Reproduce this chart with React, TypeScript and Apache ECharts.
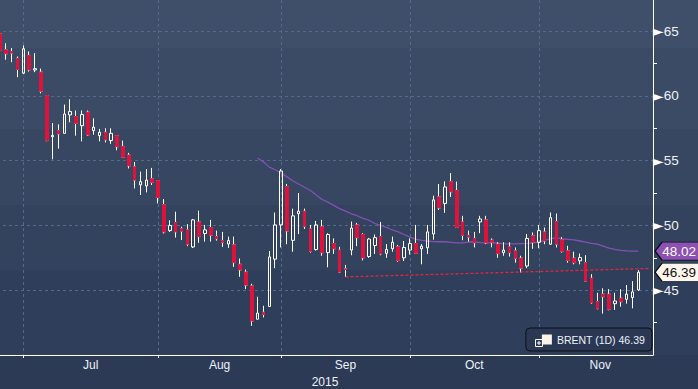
import React, { useEffect, useRef } from "react";
import * as echarts from "echarts";

// ---- data ----
const startDate = "2015-06-25";
const tradingDays = 110;
const padDays = 2;
const monthNames = ["Jan", "Feb", "Mar", "Apr", "May", "Jun", "Jul", "Aug", "Sep", "Oct", "Nov", "Dec"];
const yearLabel = "2015";
const seriesName = "BRENT (1D)";
const yTickLabels = [45, 50, 55, 60, 65];
const yMinorTicks = [42.5, 47.5, 52.5, 57.5, 62.5];

const opens = [64.8,63.56,63.43,62.9,61.75,63.12,62.0,61.83,60.03,56.85, 57.32,57.11,58.53,58.4,57.7,58.74,57.32,56.93,57.19,56.55, 56.93,56.1,55.43,54.53,53.13,53.05,53.6,53.46,51.6,49.6, 50.23,49.75,49.66,48.34,50.27,49.38,49.84,49.14,48.83,48.57, 48.5,47.0,46.4,45.33,42.76,43.3,43.74,47.4,50.04,53.0, 48.85,50.91,51.1,49.73,48.14,49.9,47.9,48.6,48.1,46.65, 48.1,50.04,49.3,47.6,48.45,49.14,47.85,48.2,48.35,47.5, 48.1,48.6,48.2,48.27,49.34,52.2,51.7,53.38,52.7,50.27, 49.24,49.0,50.27,50.43,48.86,48.56,47.9,48.35,48.04,47.47, 46.87,49.2,48.7,49.5,48.55,50.3,48.9,48.04,47.47,47.27, 47.13,45.93,44.12,44.7,44.69,43.96,44.38,44.3,44.43,45.02];
const closes = [63.51,63.25,63.3,62.04,63.64,62.01,62.1,60.36,56.55,56.95, 57.07,58.6,58.79,57.88,58.56,57.0,57.58,57.19,56.6,57.11, 56.08,55.26,54.6,53.5,53.38,53.5,53.33,52.16,49.5,50.0, 49.5,49.55,48.55,50.43,49.14,49.66,49.25,48.98,48.7,48.83, 47.13,46.57,45.4,42.63,43.23,43.13,47.57,50.04,54.2,49.57, 50.74,51.1,49.93,48.0,50.04,47.9,49.3,48.2,46.4,46.6, 49.8,49.06,47.5,48.95,49.06,47.8,48.15,48.7,47.3,48.3, 48.6,47.85,48.4,49.5,51.97,51.35,52.97,52.6,49.85,49.24, 49.1,48.66,50.5,48.66,48.7,47.83,48.1,47.9,47.47,46.7, 49.0,48.7,49.6,48.8,50.6,48.55,48.0,47.3,47.13,47.52, 45.7,44.04,43.58,44.5,43.53,44.17,44.12,44.7,44.87,46.39];
const lows = [63.12,62.79,62.6,61.44,61.7,61.88,61.83,60.2,56.5,55.1, 55.93,57.11,57.96,56.93,56.49,56.93,57.0,56.49,56.4,56.3, 55.8,55.2,54.4,52.86,52.35,52.55,53.12,51.7,49.38,49.5, 49.06,48.87,48.4,48.26,48.66,48.75,48.75,48.83,48.35,48.27, 46.8,46.03,45.08,42.25,42.76,42.9,43.74,46.7,48.3,48.55, 47.97,49.33,49.73,47.9,48.06,47.66,46.77,47.8,46.33,46.03, 47.7,48.4,47.3,47.5,47.8,47.7,47.5,47.97,47.2,47.25, 47.75,47.8,47.0,47.8,48.9,51.2,50.97,52.2,49.85,48.86, 48.75,48.3,49.4,48.56,48.3,47.5,47.66,47.6,47.13,46.36, 46.7,48.2,48.24,48.55,48.5,48.3,47.9,47.13,47.0,47.0, 45.67,43.96,43.53,43.19,43.45,43.48,43.73,43.96,43.6,44.95];
const highs = [65.13,64.07,63.69,63.04,63.9,63.43,63.3,62.1,60.03,57.9, 57.8,59.33,59.74,58.87,58.87,58.87,58.27,57.45,57.5,57.5, 56.93,56.55,55.6,54.9,54.15,54.35,54.44,53.5,52.04,50.4, 51.06,49.9,50.1,50.5,51.14,50.04,50.43,49.6,49.5,49.14, 49.14,47.45,46.6,45.5,44.5,43.8,48.03,51.0,54.35,53.2, 51.3,52.5,51.3,50.04,50.35,50.43,49.4,49.0,48.35,46.95, 50.3,50.2,49.4,49.04,49.3,50.27,48.56,49.14,48.5,48.8, 49.0,50.04,48.56,50.04,52.3,53.2,53.4,54.04,53.38,50.74, 49.6,49.5,50.74,50.74,49.0,48.7,48.7,48.7,48.3,47.66, 49.34,49.46,50.04,49.84,51.0,50.92,49.1,48.43,47.98,47.83, 47.7,46.24,44.8,45.15,45.08,44.8,45.08,45.4,45.7,46.55];

const maStartIndex = 44;
const maValues = [55.2,54.9,54.5,54.3,54.05,53.75,53.45,53.2,52.95,52.7,52.35,52.0,51.8,51.55,51.3,51.1,50.9,50.75,50.55,50.4,50.15,50.0,49.85,49.65,49.5,49.3,49.1,48.95,48.85,48.8,48.75,48.74,48.74,48.7,48.66,48.66,48.72,48.74,48.68,48.66,48.66,48.64,48.6,48.58,48.58,48.6,48.62,48.66,48.72,48.85,48.98,49.04,48.98,48.93,48.88,48.8,48.72,48.62,48.55,48.4,48.25,48.15,48.08,48.04,48.02,48.02];

const trendStart = { index: 59, value: 46.03 };
const trendEnd = { index: 111, value: 46.68 };

// ---- helpers ----
function weekdays(start: string, count: number): string[] {
  const out: string[] = [];
  const d = new Date(start + "T00:00:00Z");
  while (out.length < count) {
    const wd = d.getUTCDay();
    if (wd !== 0 && wd !== 6) out.push(d.toISOString().slice(0, 10));
    d.setUTCDate(d.getUTCDate() + 1);
  }
  return out;
}

const categories = weekdays(startDate, tradingDays + padDays);
const extended = weekdays(startDate, tradingDays + 60);
const monthStarts: number[] = [];
for (let i = 1; i < extended.length; i++) {
  if (extended[i].slice(5, 7) !== extended[i - 1].slice(5, 7)) monthStarts.push(i);
}
const tickStarts = monthStarts.filter((i) => i < categories.length);
const monthMids: number[] = [];
const monthMidNames: Record<string, string> = {};
for (let k = 0; k < monthStarts.length - 1; k++) {
  const mid = (monthStarts[k] + monthStarts[k + 1]) / 2;
  if (mid < categories.length) {
    monthMids.push(mid);
    monthMidNames[String(mid)] = monthNames[parseInt(extended[monthStarts[k]].slice(5, 7), 10) - 1];
  }
}

const TEXT = "#eef2f8";
const FONT = "Liberation Sans";
const GRID = "#4f6d8a";
const RED = "#e0123c";
const Y_MIN = 40;
const Y_MAX = 67.4;

export default function App() {
  const ref = useRef<HTMLDivElement>(null);
  useEffect(() => {
    if (!ref.current) return;
    const chart = echarts.init(ref.current, null, { renderer: "svg" });
    const n = closes.length;
    const candleData: any[] = categories.map((_, i) =>
      i < n ? [opens[i], closes[i], lows[i], highs[i]] : "-"
    );
    const bodyData: any[] = categories.map((_, i) =>
      i < n && closes[i] < opens[i] ? [opens[i], closes[i], closes[i], opens[i]] : "-"
    );
    const maData: any[] = categories.map((_, i) =>
      i >= maStartIndex && i - maStartIndex < maValues.length ? maValues[i - maStartIndex] : "-"
    );
    const lastClose = closes[n - 1];
    const lastMa = maValues[maValues.length - 1];
    const lastIdx = categories.length - 1;
    const boxPath = "path://M0,9 L8,0 L60,0 L60,18 L8,18 Z";

    chart.setOption({
      animation: false,
      backgroundColor: new echarts.graphic.LinearGradient(0, 0, 0, 1, [
        { offset: 0, color: "#3f4f69" },
        { offset: 0.123, color: "#3f4f69" },
        { offset: 0.124, color: "#3b4b66" },
        { offset: 0.331, color: "#3b4b66" },
        { offset: 0.332, color: "#374762" },
        { offset: 0.526, color: "#374762" },
        { offset: 0.527, color: "#33435e" },
        { offset: 0.693, color: "#33435e" },
        { offset: 0.694, color: "#2f3e5a" },
        { offset: 0.912, color: "#2f3e5a" },
        { offset: 0.913, color: "#2c3a56" },
        { offset: 1, color: "#2c3a56" },
      ]),
      grid: { left: -3, right: 45, top: 0, bottom: 34, containLabel: false, outerBoundsMode: "none" },
      legend: {
        data: [{ name: seriesName, icon: "rect", itemStyle: { color: "#fdf3e6", borderWidth: 0 } }],
        right: 46,
        top: 328,
        itemWidth: 10,
        itemHeight: 10,
        padding: [6, 7, 6, 16],
        backgroundColor: "#2a3854",
        borderColor: "#0b0f18",
        borderWidth: 1,
        borderRadius: 4,
        selectedMode: false,
        formatter: (name: string) => `${name} ${lastClose.toFixed(2)}`,
        textStyle: { color: TEXT, fontSize: 10.5, fontFamily: FONT },
      },
      graphic: [
        {
          type: "group",
          left: 533,
          top: 337,
          z: 100,
          children: [
            { type: "rect", z: 100, shape: { x: 0.5, y: 0.5, width: 7, height: 7 }, style: { fill: "none", stroke: "#ffffff", lineWidth: 1 } },
            { type: "line", z: 100, shape: { x1: 2, y1: 4, x2: 6, y2: 4 }, style: { stroke: "#ffffff", lineWidth: 1 } },
            { type: "line", z: 100, shape: { x1: 4, y1: 2, x2: 4, y2: 6 }, style: { stroke: "#ffffff", lineWidth: 1 } },
          ],
        },
      ],
      xAxis: [
        {
          type: "category",
          data: categories,
          boundaryGap: true,
          position: "bottom",
          axisLine: { show: true, onZero: false, lineStyle: { color: "#ffffff", width: 1 } },
          axisTick: { show: false },
          axisLabel: { show: false },
          splitLine: { show: false },
        },
        {
          type: "value",
          min: -0.5,
          max: categories.length - 0.5,
          position: "bottom",
          axisLine: { show: false, onZero: false },
          axisTick: { show: true, customValues: tickStarts, length: 3, lineStyle: { color: "#ffffff" } },
          splitLine: { show: true, lineStyle: { color: GRID, type: [3, 3], width: 1 } },
          axisLabel: {
            customValues: monthMids,
            formatter: (v: number) => monthMidNames[String(v)] || "",
            color: TEXT,
            fontSize: 12,
            fontFamily: FONT,
            margin: 4,
          },
          name: yearLabel,
          nameLocation: "middle",
          nameGap: 19,
          nameTextStyle: { color: TEXT, fontSize: 12, fontFamily: FONT },
        },
      ],
      yAxis: [
        {
          type: "value",
          position: "right",
          min: Y_MIN,
          max: Y_MAX,
          interval: 5,
          axisLine: { show: true, onZero: false, lineStyle: { color: "#ffffff", width: 1 } },
          axisTick: { show: true, customValues: yTickLabels, length: 1, lineStyle: { color: "#ffffff", opacity: 0 } },
          minorTick: { show: false },
          splitLine: { show: true, lineStyle: { color: GRID, type: [3, 3], width: 1 } },
          axisLabel: {
            customValues: yTickLabels,
            margin: 0,
            formatter: (v: number) => `{a|►}{t|${v}}`,
            rich: {
              a: { fontSize: 14, color: "#ffffff", fontFamily: "DejaVu Sans" },
              t: { fontSize: 13.5, color: TEXT, fontFamily: FONT },
            },
          },
        },
        {
          type: "value",
          position: "right",
          min: Y_MIN,
          max: Y_MAX,
          interval: 5,
          axisLine: { show: false, onZero: false },
          axisTick: { show: true, customValues: yMinorTicks, length: 4, lineStyle: { color: "#ffffff" } },
          splitLine: { show: false },
          axisLabel: { show: false },
        },
      ],
      series: [
        {
          type: "line",
          name: "MA",
          xAxisIndex: 0,
          yAxisIndex: 0,
          data: maData,
          symbol: "none",
          showSymbol: false,
          lineStyle: { color: "#8450b4", width: 1.3 },
          z: 2,
          silent: true,
          markPoint: {
            symbol: boxPath,
            symbolSize: [52, 18],
            symbolKeepAspect: false,
            symbolOffset: [31, 0],
            itemStyle: { color: "#8d50b3", borderColor: "#0b0f18", borderWidth: 1 },
            label: { show: true, position: "inside", color: "#ffffff", fontSize: 13.5, fontFamily: FONT, offset: [-2, 0], formatter: () => lastMa.toFixed(2) },
            data: [{ coord: [lastIdx, lastMa], value: lastMa }],
          },
        },
        {
          type: "candlestick",
          name: seriesName,
          xAxisIndex: 0,
          yAxisIndex: 0,
          data: candleData,
          barWidth: 3,
          itemStyle: { color: "rgba(0,0,0,0)", color0: RED, borderColor: "#ffffff", borderColor0: "#ffffff", borderWidth: 1 },
          z: 3,
          silent: true,
          markLine: {
            silent: true,
            symbol: ["none", "none"],
            label: { show: false },
            lineStyle: { color: "#e3263f", type: [3, 2], width: 1.3 },
            data: [[{ coord: [trendStart.index, trendStart.value] }, { coord: [trendEnd.index, trendEnd.value] }]],
          },
          markPoint: {
            symbol: boxPath,
            symbolSize: [52, 18],
            symbolKeepAspect: false,
            symbolOffset: [31, 0],
            itemStyle: { color: "#fdf6ec", borderColor: "#0b0f18", borderWidth: 1 },
            label: { show: true, position: "inside", color: "#111111", fontSize: 13.5, fontFamily: FONT, offset: [-2, 0], formatter: () => lastClose.toFixed(2) },
            data: [{ coord: [lastIdx, lastClose], value: lastClose }],
          },
        },
        {
          type: "candlestick",
          name: "bodies",
          xAxisIndex: 0,
          yAxisIndex: 0,
          data: bodyData,
          barWidth: 3,
          itemStyle: { color: RED, color0: RED, borderColor: RED, borderColor0: RED, borderWidth: 1 },
          z: 4,
          silent: true,
        },
      ],
    });
    return () => chart.dispose();
  }, []);
  return <div ref={ref} style={{ position: "fixed", left: 0, top: 0, width: 698, height: 389 }} />;
}
